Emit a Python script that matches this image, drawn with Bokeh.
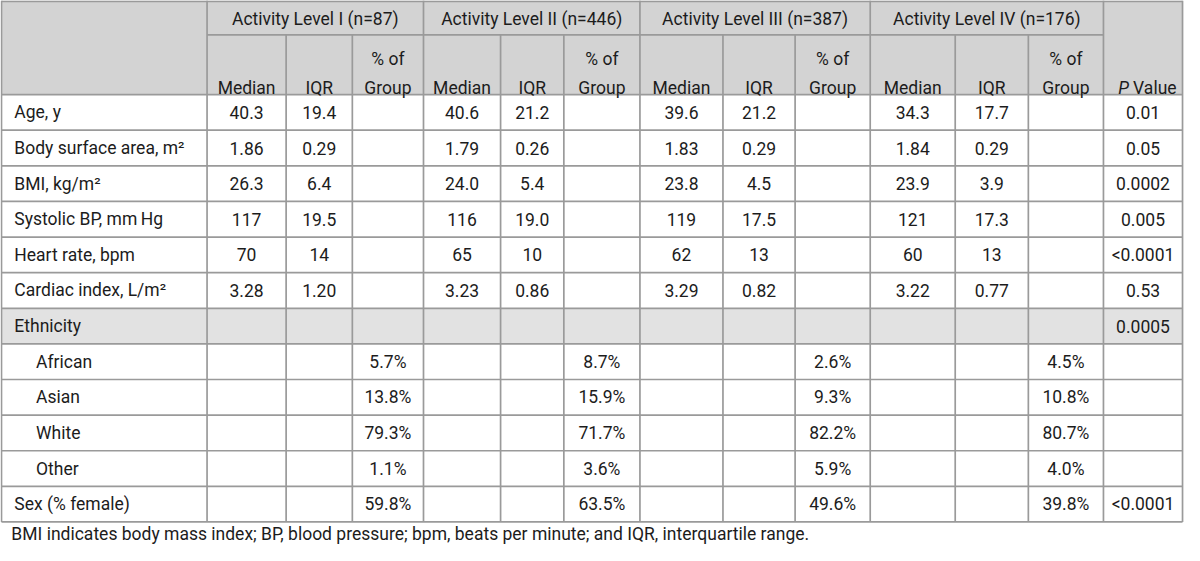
from bokeh.plotting import figure
from bokeh.models import ColumnDataSource, Range1d
from bokeh.core.properties import value
from bokeh.embed import file_html
from bokeh.resources import INLINE

# ---------------- data ----------------
row_labels = ["Age, y", "Body surface area, m²", "BMI, kg/m²", "Systolic BP, mm\u2009Hg",
              "Heart rate, bpm", "Cardiac index, L/m²", "Ethnicity",
              "African", "Asian", "White", "Other", "Sex (% female)"]
row_indent = [0, 0, 0, 0, 0, 0, 0, 1, 1, 1, 1, 0]
group_titles = ["Activity Level I (n=87)", "Activity Level II (n=446)",
                "Activity Level III (n=387)", "Activity Level IV (n=176)"]
sub_headers = ["Median", "IQR", "% of\nGroup"]

median_I = ["40.3", "1.86", "26.3", "117", "70", "3.28"]
iqr_I = ["19.4", "0.29", "6.4", "19.5", "14", "1.20"]
median_II = ["40.6", "1.79", "24.0", "116", "65", "3.23"]
iqr_II = ["21.2", "0.26", "5.4", "19.0", "10", "0.86"]
median_III = ["39.6", "1.83", "23.8", "119", "62", "3.29"]
iqr_III = ["21.2", "0.29", "4.5", "17.5", "13", "0.82"]
median_IV = ["34.3", "1.84", "23.9", "121", "60", "3.22"]
iqr_IV = ["17.7", "0.29", "3.9", "17.3", "13", "0.77"]

# rows: African, Asian, White, Other, Sex (% female)
pct_I = ["5.7%", "13.8%", "79.3%", "1.1%", "59.8%"]
pct_II = ["8.7%", "15.9%", "71.7%", "3.6%", "63.5%"]
pct_III = ["2.6%", "9.3%", "82.2%", "5.9%", "49.6%"]
pct_IV = ["4.5%", "10.8%", "80.7%", "4.0%", "39.8%"]

p_values = ["0.01", "0.05", "0.0002", "0.005", "<0.0001", "0.53", "0.0005",
            "", "", "", "", "<0.0001"]

footnote = ("BMI indicates body mass index; BP, blood pressure; bpm, beats per minute; "
            "and IQR, interquartile range.")

medians = [median_I, median_II, median_III, median_IV]
iqrs = [iqr_I, iqr_II, iqr_III, iqr_IV]
pcts = [pct_I, pct_II, pct_III, pct_IV]

# ---------------- layout ----------------
col_x = [2, 210, 290, 357, 429, 507, 571, 648, 732, 805, 881, 967, 1041, 1117, 1197]
hdr_y = [2, 37, 98]
n_rows = len(row_labels)
row_h = (534 - 98) / n_rows
row_y = [98 + i * row_h for i in range(n_rows + 1)]

FONT = value("Roboto")
FS = "17.5px"
TXT = "#1c1c1c"
LINE = "#9a9a9a"
HDR_BG = "#d3d3d3"
ETH_BG = "#e2e2e2"

W, H = 1184, 545
p = figure(width=W, height=H, output_backend="svg", toolbar_location=None,
           x_range=Range1d(1, 1199), y_range=Range1d(558, 2),
           min_border=0)
p.axis.visible = False
p.grid.visible = False
p.outline_line_color = None
p.background_fill_color = "white"

# backgrounds
p.quad(left=[col_x[0]], right=[col_x[-1]], top=[hdr_y[0]], bottom=[hdr_y[2]],
       fill_color=HDR_BG, line_color=None)
eth = row_labels.index("Ethnicity")
p.quad(left=[col_x[0]], right=[col_x[-1]], top=[row_y[eth]], bottom=[row_y[eth + 1]],
       fill_color=ETH_BG, line_color=None)

# grid lines
x0s, y0s, x1s, y1s = [], [], [], []
for y in [hdr_y[0] + 0.8, hdr_y[2]] + row_y[1:]:
    x0s.append(col_x[0]); x1s.append(col_x[-1]); y0s.append(y); y1s.append(y)
x0s.append(col_x[1]); x1s.append(col_x[-2]); y0s.append(hdr_y[1]); y1s.append(hdr_y[1])
group_edges = [col_x[0], col_x[1], col_x[4], col_x[7], col_x[10], col_x[13], col_x[14]]
for x in col_x:
    top = hdr_y[0] if x in group_edges else hdr_y[1]
    x0s.append(x); x1s.append(x); y0s.append(top); y1s.append(row_y[-1])
p.segment(x0=x0s, y0=y0s, x1=x1s, y1=y1s, line_color=LINE, line_width=1.7)

# centered cell texts
cx, cy, ct = [], [], []
for g, title in enumerate(group_titles):
    cx.append((col_x[1 + 3 * g] + col_x[4 + 3 * g]) / 2); cy.append((hdr_y[0] + hdr_y[1]) / 2 + 1); ct.append(title)
    for r in range(len(medians[g])):
        yc = (row_y[r] + row_y[r + 1]) / 2
        cx.append((col_x[1 + 3 * g] + col_x[2 + 3 * g]) / 2); cy.append(yc); ct.append(medians[g][r])
        cx.append((col_x[2 + 3 * g] + col_x[3 + 3 * g]) / 2); cy.append(yc); ct.append(iqrs[g][r])
    for r, v in enumerate(pcts[g]):
        rr = eth + 1 + r
        yc = (row_y[rr] + row_y[rr + 1]) / 2
        cx.append((col_x[3 + 3 * g] + col_x[4 + 3 * g]) / 2); cy.append(yc); ct.append(v)
for r, v in enumerate(p_values):
    yc = (row_y[r] + row_y[r + 1]) / 2
    cx.append((col_x[-2] + col_x[-1]) / 2); cy.append(yc); ct.append(v)

src = ColumnDataSource(dict(x=cx, y=cy, t=ct))
p.text(x="x", y="y", text="t", source=src, text_align="center", text_baseline="middle",
       text_font=FONT, text_font_size=FS, text_color=TXT)

# sub-headers, baseline aligned at the bottom of the header
hx, hy, ht = [], [], []
for g in range(4):
    for k in range(3):
        xm = (col_x[1 + 3 * g + k] + col_x[2 + 3 * g + k]) / 2
        for j, line in enumerate(reversed(sub_headers[k].split("\n"))):
            hx.append(xm); hy.append(91 - 29 * j); ht.append(line)
p.text(x=hx, y=hy, text=ht, text_align="center", text_baseline="alphabetic",
       text_font=FONT, text_font_size=FS, text_color=TXT)

# P Value header
pv_x = (col_x[-2] + col_x[-1]) / 2
p.text(x=[pv_x - 25], y=[91], text=["P"], text_align="left", text_baseline="alphabetic",
       text_font=FONT, text_font_size=FS, text_font_style="italic", text_color=TXT)
p.text(x=[pv_x - 10], y=[91], text=["Value"], text_align="left", text_baseline="alphabetic",
       text_font=FONT, text_font_size=FS, text_color=TXT)

# row labels
lx = [col_x[0] + 13 + 22 * ind for ind in row_indent]
ly = [(row_y[r] + row_y[r + 1]) / 2 for r in range(n_rows)]
p.text(x=lx, y=ly, text=row_labels, text_align="left", text_baseline="middle",
       text_font=FONT, text_font_size=FS, text_color=TXT)

# footnote
p.text(x=[12], y=[546.5], text=[footnote], text_align="left", text_baseline="alphabetic",
       text_font=FONT, text_font_size=FS, text_color=TXT)

open("out.html", "w").write(file_html(p, INLINE))
